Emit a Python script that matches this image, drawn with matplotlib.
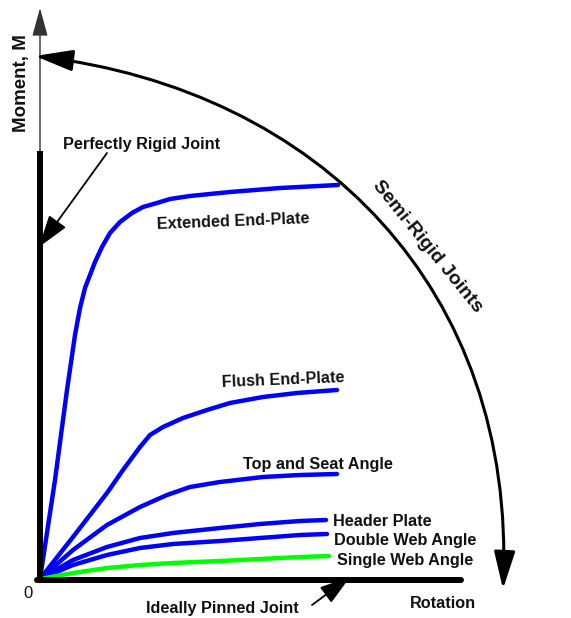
import matplotlib
matplotlib.use("Agg")
import matplotlib.pyplot as plt
from matplotlib.patches import FancyArrowPatch
from matplotlib.path import Path

plt.rcParams['font.family'] = ['Liberation Sans', 'DejaVu Sans']

# Moment-rotation curves (rotation, moment) in schematic units
ext_rot = [0, 15, 27, 35, 40, 45, 50, 55, 62, 70, 80, 92, 103, 117, 130, 150, 190, 240, 298]
ext_mom = [0, 99, 189, 244, 271, 291, 304, 317, 332, 346, 357, 366, 372, 376, 380, 383, 387, 391, 394]

flush_rot = [0, 33, 67, 83, 100, 110, 123, 143, 167, 190, 223, 257, 297]
flush_mom = [0, 42, 86, 109, 132, 144, 152, 161, 169, 176, 182, 186, 189]

tsa_rot = [0, 33, 67, 100, 127, 150, 180, 223, 260, 297]
tsa_mom = [0, 29, 54, 72, 84, 92, 97, 102, 104, 105]

hp_rot = [0, 33, 67, 100, 133, 180, 220, 260, 286]
hp_mom = [0, 19, 32, 41, 46, 51, 55, 58, 59]

dwa_rot = [0, 33, 67, 100, 133, 180, 220, 260, 287]
dwa_mom = [0, 14, 24, 31, 35, 38, 41, 44, 45]

swa_rot = [0, 33, 67, 100, 133, 180, 220, 260, 289]
swa_mom = [0, 6, 11, 14, 16, 18, 20, 22, 23]

curve_names = ["Extended End-Plate", "Flush End-Plate", "Top and Seat Angle",
               "Header Plate", "Double Web Angle", "Single Web Angle"]

BLUE = "#0000FF"
GREEN = "#00FF00"

fig = plt.figure(figsize=(5.71, 6.18), dpi=100)
ax = fig.add_axes([0, 0, 1, 1])
ax.set_xlim(-40, 531)
ax.set_ylim(-39, 579)
ax.axis('off')


def at(px, py):
    """Convert a canvas pixel location to chart units."""
    return px - 40, 579 - py


# Curves
lw_curve = 3.2
series = [(ext_rot, ext_mom, BLUE), (flush_rot, flush_mom, BLUE),
          (tsa_rot, tsa_mom, BLUE), (hp_rot, hp_mom, BLUE),
          (dwa_rot, dwa_mom, BLUE), (swa_rot, swa_mom, GREEN)]
for r, m, c in series:
    ax.plot(r, m, color=c, lw=lw_curve, solid_capstyle='round',
            solid_joinstyle='round', zorder=2)

# Thin axes with arrowheads
ax.annotate("", xy=at(40, 8), xytext=at(40, 580),
            arrowprops=dict(arrowstyle='-|>,head_length=1.75,head_width=0.48',
                            mutation_scale=10, lw=1.0, color='#333333',
                            shrinkA=0, shrinkB=0), zorder=3)
ax.annotate("", xy=at(577, 580), xytext=at(40, 580),
            arrowprops=dict(arrowstyle='-|>,head_length=1.6,head_width=0.5',
                            mutation_scale=10, lw=1.0, color='#333333',
                            shrinkA=0, shrinkB=0), zorder=3)

# Thick limits: perfectly rigid and ideally pinned joints
x0, y0 = at(40, 582)
x1, y1 = at(40, 151)
ax.plot([x0, x1], [y0, y1], color='black', lw=4.3, solid_capstyle='butt', zorder=4)
x0, y0 = at(37, 580)
x1, y1 = at(461, 580)
ax.plot([x0, x1], [y0, y1], color='black', lw=4.3, solid_capstyle='round', zorder=4)

# Semi-rigid arc with arrowheads at both ends
verts = [at(35, 56), at(320, 90), at(516, 290), at(503, 589)]
arc = Path(verts, [Path.MOVETO, Path.CURVE4, Path.CURVE4, Path.CURVE4])
ax.add_patch(FancyArrowPatch(path=arc, arrowstyle='<|-|>,head_length=1.6,head_width=0.45',
                             mutation_scale=14.4, lw=2.2, color='black',
                             shrinkA=0, shrinkB=0, zorder=5))

# Pointer arrows
ax.annotate("", xy=at(39, 247), xytext=at(107, 153),
            arrowprops=dict(arrowstyle='-|>,head_length=2.0,head_width=0.65',
                            mutation_scale=10, lw=1.3, color='black',
                            shrinkA=0, shrinkB=0), zorder=5)
ax.annotate("", xy=at(350, 577), xytext=at(312, 605),
            arrowprops=dict(arrowstyle='-|>,head_length=1.9,head_width=0.6',
                            mutation_scale=10, lw=1.3, color='black',
                            shrinkA=0, shrinkB=0), zorder=5)

# Labels
fs = 11.7
bold = dict(fontsize=fs, fontweight='bold', color='#111111')
ax.text(*at(22, 83), "Moment, M", rotation=90, ha='center', va='center',
        fontsize=13.5, fontweight='bold', color='#111111')
ax.text(*at(63, 145), "Perfectly Rigid Joint", ha='left', va='center', **bold)
ax.text(*at(157, 229), curve_names[0], ha='left', va='baseline', rotation=2.2,
        rotation_mode='anchor', **bold)
ax.text(*at(222, 387), curve_names[1], ha='left', va='baseline', rotation=2.3,
        rotation_mode='anchor', **bold)
ax.text(*at(243, 464), curve_names[2], ha='left', va='center', **bold)
ax.text(*at(333, 521), curve_names[3], ha='left', va='center', **bold)
ax.text(*at(334, 540), curve_names[4], ha='left', va='center', **bold)
ax.text(*at(337, 560), curve_names[5], ha='left', va='center', **bold)
ax.text(*at(146, 609), "Ideally Pinned Joint", ha='left', va='center', **bold)
ax.text(*at(410, 603), "Rotation", ha='left', va='center', **bold)
ax.text(*at(28, 594), "0", ha='center', va='center', fontsize=12, color='#111111')
ax.text(*at(427, 247), "Semi-Rigid Joints", ha='center', va='center', rotation=-51,
        fontsize=14, fontweight='bold', color='#111111')

fig.savefig("out.png", dpi=100)
